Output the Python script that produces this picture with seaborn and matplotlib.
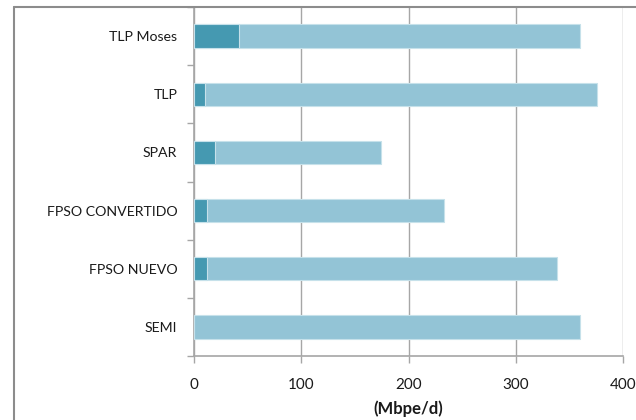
import matplotlib
matplotlib.use("Agg")
import matplotlib.pyplot as plt
from matplotlib.lines import Line2D
import seaborn as sns
import pandas as pd

# Production capacity by platform type (Mbpe/d)
categories = ["TLP Moses", "TLP", "SPAR", "FPSO CONVERTIDO", "FPSO NUEVO", "SEMI"]
first_segment = [42, 10, 20, 12.5, 12.5, 0]
total_capacity = [359.5, 376, 174, 233, 338.5, 360]
x_ticks = [0, 100, 200, 300, 400]
x_label = "(Mbpe/d)"

dark_color = "#4599B1"
light_color = "#93C4D6"
edge_color = "#C6E1EA"
grid_color = "#A6A6A6"

sns.set_theme(style="white")
plt.rcParams["font.family"] = ["Lato", "DejaVu Sans"]

df = pd.DataFrame({
    "category": categories,
    "first": first_segment,
    "total": total_capacity,
})

fig = plt.figure(figsize=(6.36, 4.2), dpi=100)
ax = fig.add_axes([194 / 636, 1 - 356 / 420, (623 - 194) / 636, (356 - 7) / 420])

# Full bar underneath, first segment stacked on top of it from zero
sns.barplot(data=df, y="category", x="total", orient="h", color=light_color,
            width=0.4, edgecolor=edge_color, linewidth=0.8, saturation=1, ax=ax,
            zorder=3)
sns.barplot(data=df, y="category", x="first", orient="h", color=dark_color,
            width=0.4, edgecolor=edge_color, linewidth=0.8, saturation=1, ax=ax,
            zorder=4)

ax.set_xlim(0, 400)
ax.set_ylim(len(categories) - 0.5, -0.5)
ax.set_xticks(x_ticks)
ax.set_xticklabels([str(t) for t in x_ticks])
ax.xaxis.grid(True, color=grid_color, linewidth=1.0)
ax.set_axisbelow(True)
ax.set_ylabel("")
ax.set_xlabel(x_label, fontsize=12, fontweight="bold", labelpad=6,
              color="#1a1a1a")

# Category boundary tick marks on the vertical axis
ax.set_yticks(range(len(categories)))
ax.set_yticklabels(categories)
ax.set_yticks([i - 0.5 for i in range(len(categories) + 1)], minor=True)
ax.tick_params(axis="y", which="major", length=0, pad=12, labelsize=10.2,
               labelcolor="#1a1a1a")
ax.tick_params(axis="y", which="minor", length=5, width=1, color=grid_color,
               direction="out", left=True)
ax.tick_params(axis="x", which="major", length=5, width=1, color=grid_color,
               direction="out", bottom=True, pad=11, labelsize=11,
               labelcolor="#1a1a1a")

for side in ["top", "right"]:
    ax.spines[side].set_visible(False)
for side in ["left", "bottom"]:
    ax.spines[side].set_color(grid_color)
    ax.spines[side].set_linewidth(1.2)

# Outer chart frame (left and top edges)
frame_color = "#8C8C8C"
fx = 13.5 / 636
fy = 1 - 7 / 420
fig.add_artist(Line2D([fx, 1.0], [fy, fy], transform=fig.transFigure,
                      color=frame_color, linewidth=1.5))
fig.add_artist(Line2D([fx, fx], [0.0, fy], transform=fig.transFigure,
                      color=frame_color, linewidth=1.5))

fig.savefig("out.png", dpi=100)
